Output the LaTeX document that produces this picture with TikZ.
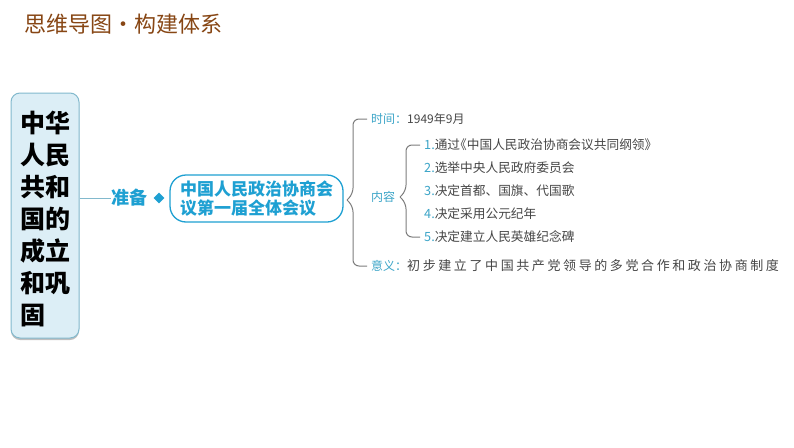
\documentclass[tikz,border=0pt]{standalone}
\usepackage{fontspec}
\usetikzlibrary{positioning}
\usetikzlibrary{shapes.geometric}
\usetikzlibrary{shadows}
\newfontfamily\cjkFont{Noto Sans CJK SC}
\newfontfamily\cjkWide[LetterSpace=20]{Noto Sans CJK SC}
\definecolor{titleColor}{RGB}{135,70,20}
\definecolor{accentColor}{RGB}{30,160,210}
\definecolor{noteColor}{RGB}{60,165,200}
\definecolor{boxFill}{RGB}{220,238,246}
\definecolor{boxLine}{RGB}{130,185,205}
\definecolor{braceColor}{RGB}{125,125,125}
\definecolor{itemColor}{RGB}{70,70,70}
\tikzstyle{mindmap} = [x = 1pt, y = -1pt]
\tikzstyle{plainText} = [inner sep = 0pt, anchor = west]
\tikzstyle{titleText} = [plainText, text=titleColor, font=\cjkFont\fontsize{22}{26}\selectfont]
\tikzstyle{rootBox} = [draw=boxLine, fill=boxFill, line width=1pt, rounded corners = 9pt, minimum width=68pt, minimum height=245pt, inner sep=0pt, align=left, font=\cjkFont\bfseries\fontsize{25}{32}\selectfont, drop shadow={shadow xshift=0pt, shadow yshift=-2pt, fill=gray, opacity=.5}]
\tikzstyle{stepText} = [plainText, text=accentColor, font=\cjkFont\bfseries\fontsize{18}{20}\selectfont]
\tikzstyle{markDiamond} = [diamond, fill=accentColor, minimum size=11pt, inner sep=0pt]
\tikzstyle{meetingBox} = [draw=accentColor, fill=white, line width=1.3pt, rounded corners = 16pt, minimum width=173pt, minimum height=47pt, inner sep=0pt, align=left, text=accentColor, font=\cjkFont\bfseries\fontsize{17}{19.5}\selectfont]
\tikzstyle{noteText} = [plainText, text=itemColor, font=\cjkFont\fontsize{12}{14}\selectfont]
\tikzstyle{itemText} = [plainText, text=itemColor, font=\cjkFont\fontsize{12.7}{15}\selectfont]
\tikzstyle{wideText} = [plainText, text=itemColor, font=\cjkWide\fontsize{13}{15}\selectfont]
\tikzstyle{linkLine} = [color=boxLine, line width=1pt]
\tikzstyle{braceLine} = [color=braceColor, line width=1pt, rounded corners = 6pt, shorten > = 4pt]
\newcommand{\note}[1]{\textcolor{noteColor}{#1}}
\newcommand{\braceArm}[3]{\draw [braceLine] (#1) -- ++(6,#3) |- (#2.west);}
\begin{document}
\begin{tikzpicture}[mindmap]
  \useasboundingbox (0,0) rectangle (794,447);
  \fill [white] (0,0) rectangle (794,447);

  \node [titleText] (title) at (24,24) {思维导图・构建体系};

  \node [rootBox] (root) at (45,215.5) {\rule{0pt}{28pt}中华\\人民\\共和\\国的\\成立\\和巩\\固};
  \node [stepText] (step) at (111,198) {准备};
  \node [markDiamond] (mark) at (159,198) {};
  \node [meetingBox] (meeting) at (256.5,198.5) {中国人民政治协商会\\议第一届全体会议};
  \draw [linkLine] (root.east |- step) -- (step.west);

  \coordinate (bigTip) at (347,200);
  \coordinate (innerTip) at (400,197);
  \node [noteText] (time) at (371,119) {\note{时间：}1949年9月};
  \node [noteText] (content) at (371,197) {\note{内容}};
  \node [wideText] (meaning) at (371,266) {\note{\cjkFont\fontsize{12}{15}\selectfont 意义：}初步建立了中国共产党领导的多党合作和政治协商制度};

  \foreach \num/\rowY/\itemLabel in {1/145/通过\kern-6pt《中国人民政治协商会议共同纲领》,
    2/168/选举中央人民政府委员会,
    3/191/决定首都、国旗、代国歌,
    4/214/决定采用公元纪年,
    5/237/决定建立人民英雄纪念碑} {
    \node [itemText] (item\num) at (424,\rowY) {\note{\num.}\itemLabel};
  }

  \braceArm{bigTip}{time}{-6}
  \braceArm{bigTip}{meaning}{6}
  \braceArm{innerTip}{item1}{-6}
  \braceArm{innerTip}{item5}{6}
\end{tikzpicture}
\end{document}
